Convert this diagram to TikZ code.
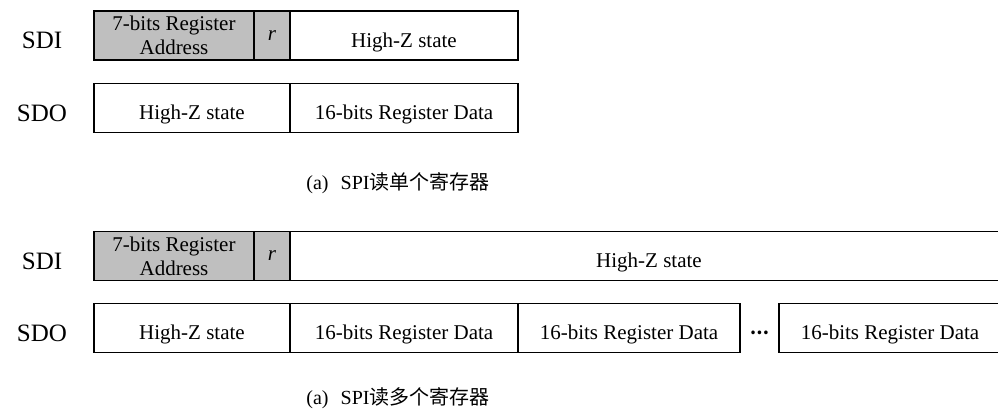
\documentclass[tikz,border=0pt]{standalone}
\usepackage{fontspec}
\setmainfont{Liberation Serif}
\newfontfamily\cjk{Noto Sans CJK SC}
\usetikzlibrary{positioning}

\begin{document}
\begin{tikzpicture}[x=1pt,y=-1pt,
  frame/.style={draw, line width=1.2pt, minimum height=49pt, inner sep=0pt, outer sep=0pt},
  cell/.style={frame, font=\fontsize{21}{22}\selectfont, text height=23pt, text depth=0pt},
  addr/.style={frame, fill=black!25, align=center, font=\fontsize{21}{24}\selectfont},
  sig/.style={font=\fontsize{25}{26}\selectfont},
  figcap/.style={font=\fontsize{20}{22}\selectfont}]
\useasboundingbox (0,0) rectangle (998,410);
\clip (0,0) rectangle (998,410);

% read one register
\node [sig] (sdi1) at (42,40.5) {SDI};
\node [addr, minimum width=160pt, anchor=west] (adr1) at (94,35.5) {7-bits Register\\Address};
\node [addr, minimum width=36pt] (rw1) [right=0pt of adr1] {\textit{r}};
\node [cell, minimum width=228pt] (hz1) [right=0pt of rw1] {High-Z state};

\node [sig] (sdo1) at (42,113) {SDO};
\node [cell, minimum width=196pt, anchor=west] (hz2) at (94,108) {High-Z state};
\node [cell, minimum width=228pt] (dat1) [right=0pt of hz2] {16-bits Register Data};

\node [figcap] (cap1) at (398,183) {(a)\hspace{0.6em}SPI{\cjk 读单个寄存器}};

% read many registers
\node [sig] (sdi2) at (42,261) {SDI};
\node [addr, minimum width=160pt, anchor=west] (adr2) at (94,256) {7-bits Register\\Address};
\node [addr, minimum width=36pt] (rw2) [right=0pt of adr2] {\textit{r}};
\node [cell, minimum width=718pt] (hz3) [right=0pt of rw2] {High-Z state};

\node [sig] (sdo2) at (42,333) {SDO};
\node [cell, minimum width=196pt, anchor=west] (hz4) at (94,328) {High-Z state};
\node [cell, minimum width=228pt] (dat2) [right=0pt of hz4] {16-bits Register Data};
\node [cell, minimum width=222pt] (dat3) [right=0pt of dat2] {16-bits Register Data};
\node [frame, draw=none, minimum width=39pt, text height=13pt, text depth=0pt, font=\fontsize{17}{17}\selectfont] (gap) [right=0pt of dat3] {\cjk\bfseries …};
\node [cell, minimum width=222pt] (dat4) [right=0pt of gap] {16-bits Register Data};

\node [figcap] (cap2) at (398,398) {(a)\hspace{0.6em}SPI{\cjk 读多个寄存器}};
\end{tikzpicture}
\end{document}
